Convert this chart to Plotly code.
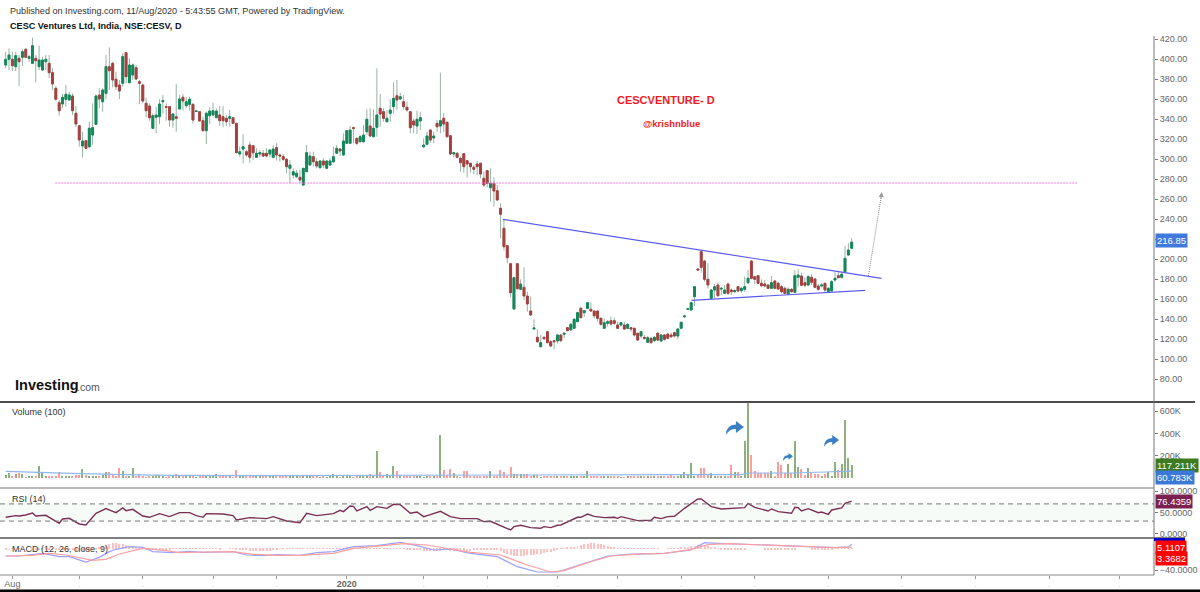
import plotly.graph_objects as go

# --- price candles (one entry per daily bar) ---
opens = [
    394, 399.7, 399.7, 392.3, 400.7, 401.7, 409.7, 400.7, 395.7, 400.7,
    392.3, 389, 397.3, 395.7, 386.3, 370.7, 356.3, 355, 359.7, 359,
    363, 345.7, 333.3, 313, 318.3, 312.3, 324, 334.7, 364, 357.3,
    365.7, 392.3, 395.7, 379.7, 374, 375.7, 406.3, 376.3, 384, 391.3,
    377.3, 374, 355.7, 353, 330.7, 341.7, 342.3, 357.3, 352.3, 352.3,
    339, 342.3, 350, 361.7, 353.3, 354.7, 354.7, 347.6, 347.3, 338.3,
    328.3, 343.3, 344, 341.3, 344, 342.3, 340.7, 340.7, 341.3, 335.7,
    305, 310, 307.3, 314, 313.3, 301.7, 305, 305.7, 305.7, 305,
    301.7, 311.3, 304, 302.3, 299.7, 290.7, 284, 282.3, 281.7, 274,
    287.3, 294, 302.3, 297.3, 291.3, 298, 290.7, 294, 297.3, 305.7,
    310, 304, 315.7, 315.7, 331.3, 320.7, 317.3, 317.3, 327.3, 333,
    322.3, 331.7, 350.7, 347.3, 337.3, 345.7, 352.3, 363.3, 360, 357.3,
    351.7, 347.3, 338, 333, 338, 312.3, 314.7, 329, 321, 335.7,
    333, 340.7, 336.7, 323.3, 305, 305.7, 300.7, 305.3, 298.3, 295.7,
    291.7, 295, 295.7, 280.7, 288.3, 271.3, 275.7, 268.3, 250.7, 230.7,
    213.3, 195.3, 150, 195.3, 169.7, 171.7, 163, 148, 130, 121.7,
    112.3, 121.7, 127.3, 117.3, 118.3, 118, 124, 124.7, 131.3, 129,
    130.7, 137.3, 150.7, 146.3, 150.7, 149.7, 148, 148, 140.7, 130.7,
    135.7, 138.3, 138.3, 134, 134, 134, 130.7, 131.3, 130.7, 125.7,
    123, 121.7, 116.7, 120.7, 118.3, 125.7, 118, 124, 125, 124,
    126.3, 123, 130.7, 142.3, 149.7, 149, 162.3, 190, 207.3, 198,
    179.7, 160.7, 169, 174, 170, 165.7, 175, 169, 167.3, 172.3,
    168.3, 169.7, 176.3, 198, 182.3, 183.3, 175.7, 175, 174, 170.7,
    178, 175.7, 172.3, 170.7, 165, 169.7, 166.7, 181.7, 183, 176.3,
    174, 181.7, 180, 173, 173, 175.7, 167.3, 168, 179, 183.3,
    181.7, 187.3, 204, 210.7,
]
highs = [
    407.3, 410.7, 407.3, 407.3, 404, 409.7, 410.7, 404, 421.3, 404,
    413.3, 402.3, 404, 404, 390.7, 373, 359, 365, 374, 367.3,
    365.7, 353, 334, 327.3, 319, 337.3, 355.7, 364.7, 370.7, 370.7,
    404, 411.7, 397.3, 387.3, 379, 405.7, 406.7, 400.7, 395.7, 394,
    379, 375.7, 361.3, 355.7, 345.7, 352.3, 359.7, 364, 355.7, 352.3,
    345.7, 375, 364, 365, 362.3, 362.3, 355.7, 348, 347.3, 342.3,
    347.3, 351.7, 356.3, 350.7, 353, 353, 344, 349, 341.7, 335.7,
    312.3, 324.7, 309, 317.3, 314, 310.7, 309, 309, 310.7, 309,
    314, 315.7, 305.7, 305, 300.7, 299, 290.7, 289, 289, 290.7,
    314, 307.3, 307.3, 300.7, 299, 300.7, 299, 300.7, 312.3, 314,
    310.7, 325.7, 329, 333, 332.3, 320.7, 324, 334, 349.7, 350.7,
    349.7, 390.7, 365, 350.7, 349, 359.7, 376.7, 379, 366.3, 364,
    357.3, 348, 340.7, 348.3, 347.3, 320.7, 327.3, 329.7, 327.3, 339,
    386.3, 345.7, 337.3, 324, 307.3, 306.7, 302.3, 305.7, 299, 296.3,
    294, 298, 296.3, 287.3, 289, 290.7, 281.7, 274, 255.7, 240,
    214, 195.7, 182.3, 195.7, 179.7, 191.7, 167.3, 162.3, 139.7, 129.7,
    124, 122.3, 128.3, 119, 119, 125, 124.7, 126.3, 131.3, 135.7,
    140.7, 147.3, 152.3, 149, 156.7, 156.7, 148.3, 148.3, 141.7, 140.7,
    139, 142.3, 141.3, 137.3, 137.3, 137.3, 135.7, 132.3, 131.3, 126.3,
    127.3, 124, 123.3, 122.3, 123, 127.3, 125, 125, 126.3, 126.3,
    127.3, 130.7, 137.3, 144, 150.7, 157.3, 173, 190.7, 208.3, 199,
    195.7, 169.7, 175, 176.3, 171.7, 174, 176.3, 170.7, 169.7, 173,
    171.7, 182.3, 189, 198.3, 183, 184, 179.7, 179, 175, 183,
    179, 177.3, 174, 172.3, 171.7, 170.7, 189, 189.7, 186.3, 181.7,
    184, 185, 180.7, 175, 175.7, 176.3, 171.7, 179, 187.3, 188.3,
    187.3, 213, 215.7, 220.7,
]
lows = [
    390.7, 389, 388, 388, 373, 393, 400.7, 397.3, 395, 376.7,
    389, 388.3, 389, 380.7, 369, 358.3, 343.3, 350.7, 352.3, 359,
    344, 331.7, 312.3, 301.3, 310.3, 310.7, 314, 334, 350.7, 347.3,
    359.7, 369, 371.7, 369, 360, 372.3, 375.7, 375.7, 379, 379,
    354.7, 355.7, 341.7, 338.3, 330, 325.7, 335, 345.7, 338.3, 332.3,
    331.3, 327.3, 349.7, 348.3, 350.7, 348.3, 335.7, 347.5, 337.3, 327.3,
    315, 335, 344, 340.7, 333, 331.7, 333, 332.3, 335.7, 305.7,
    302.3, 295.7, 302.3, 296.3, 299, 301.7, 301.7, 301.7, 301.7, 301.7,
    300.7, 298.3, 297.3, 298, 285.7, 275.7, 280.7, 280.7, 275.7, 273,
    287.3, 293.3, 292.3, 290.7, 290.7, 290.7, 290, 293.3, 295.7, 305,
    303, 303, 315.7, 315, 315.7, 314, 316.7, 316.3, 324, 321.7,
    321.7, 322.3, 332.3, 337.3, 336.7, 337.3, 345.7, 349, 359, 349.7,
    347.3, 325.7, 325.7, 325, 329, 310.7, 314, 316.3, 315.7, 327.3,
    325.7, 327.3, 321.7, 304, 301.7, 300.7, 287.3, 286.3, 281.3, 286.3,
    285, 284, 280.7, 272.3, 271.7, 257.3, 252.3, 258.3, 220.7, 208.3,
    195.7, 161.7, 149.7, 169.7, 169, 159, 147.3, 143, 130, 116.3,
    111.3, 119, 115.7, 112.3, 109.7, 115.7, 116.7, 120.7, 128, 129,
    130.7, 137.3, 140.7, 142.3, 149.7, 147.3, 140.7, 137.3, 133.3, 130,
    132.3, 133.3, 134, 130, 132.3, 129, 130, 127.3, 122.3, 118,
    120.7, 119, 116.3, 115.7, 117.3, 118, 117.3, 118.3, 119.7, 121.3,
    121.3, 119.7, 130.7, 140.7, 149, 148.3, 153, 189, 186.3, 177.3,
    170.7, 159.7, 160.7, 162.3, 164, 165, 164, 164, 166.3, 166.7,
    166.3, 167.3, 175, 179.7, 175, 175, 171.7, 171.7, 170, 170,
    169.7, 169, 165.7, 165, 164, 166.3, 166.3, 172.3, 173, 171.7,
    173, 174, 170.7, 168.3, 171.7, 166.7, 166.3, 167.3, 177.3, 180.7,
    180.7, 186.7, 203, 209.7,
]
closes = [
    399.7, 404, 393.3, 403.3, 397.3, 407.3, 401.7, 402.3, 413.3, 398.3,
    399, 399, 399.7, 386.3, 375, 359.7, 348.3, 361.7, 364.7, 364,
    348.3, 335, 319, 318, 310.7, 330.7, 331.3, 363, 360, 369,
    392.3, 388.3, 379, 372.3, 368, 402.3, 382.3, 394, 394, 380,
    375.7, 358, 348.3, 341.3, 343.3, 344, 355, 358.3, 351.7, 339,
    345, 340.7, 360, 358, 357.3, 359.7, 339, 348, 338, 328.3,
    345.7, 348, 348.3, 348, 338.3, 338.3, 337.3, 342.3, 335.7, 306.3,
    307.3, 312.3, 304, 301.7, 306.3, 305.7, 306.3, 303, 303, 309,
    310, 304, 303, 299.7, 292.3, 294, 287.3, 285.7, 279, 290.7,
    306.3, 303, 297.3, 293, 298, 294, 298, 298, 302.3, 310.7,
    308, 318, 328.3, 329, 330.7, 315.7, 322.3, 324, 339.7, 323,
    330.7, 344, 345, 340.7, 340.7, 349, 360.7, 359, 362.3, 352.3,
    349, 331.3, 334, 339.7, 341.3, 314, 323, 319, 323, 332.3,
    338.3, 335, 322.3, 305, 306.3, 301.7, 296.3, 292.3, 295, 292.3,
    289.7, 292.3, 285, 274, 275.7, 275.7, 268, 259, 244.7, 212.3,
    201.3, 166.3, 181.3, 170.3, 175, 163, 155, 144, 131, 117.3,
    116.3, 120.3, 116.3, 113, 117.3, 124, 118.3, 125.7, 128.3, 134.7,
    139.7, 146.3, 141.3, 148.3, 156.3, 148, 143.3, 140.7, 134.7, 136.3,
    137.3, 135, 135.7, 130.7, 136.3, 130, 134.7, 130, 124, 119,
    127.3, 120.7, 121.3, 116.3, 121.7, 119, 124, 119.7, 120.7, 122.3,
    123, 130, 136.7, 143, 150.3, 156.3, 172.3, 189, 191.7, 179.7,
    174, 169, 172.3, 163.3, 170.7, 169, 165.7, 167.3, 168.3, 168,
    170.7, 172.3, 180.7, 180.7, 179.7, 175.7, 173.3, 173, 170.7, 176.3,
    170.7, 170, 167.3, 165.7, 169.7, 167.3, 183.3, 184, 173.7, 173.7,
    182.3, 176.7, 171.7, 169.7, 174, 169, 170.7, 177.3, 180.7, 181.3,
    184.7, 200.7, 209, 216.85,
]
bars = list(range(len(closes)))

# --- volume in thousands, one per bar ---
volume_k = [
    30, 42, 18, 36, 45, 36, 6, 9, 12, 18,
    105, 42, 18, 12, 9, 12, 51, 15, 12, 9,
    15, 24, 30, 84, 24, 18, 21, 15, 12, 24,
    51, 51, 24, 12, 90, 66, 12, 21, 90, 15,
    36, 12, 6, 9, 12, 30, 30, 18, 6, 9,
    9, 36, 21, 18, 12, 15, 18, 6, 9, 15,
    21, 24, 15, 36, 12, 9, 15, 9, 6, 75,
    15, 18, 12, 15, 12, 9, 12, 15, 9, 12,
    12, 18, 15, 12, 15, 9, 18, 21, 15, 15,
    21, 15, 12, 9, 6, 9, 6, 9, 36, 18,
    6, 15, 12, 9, 6, 12, 9, 12, 15, 36,
    15, 240, 51, 24, 39, 15, 105, 60, 15, 12,
    9, 12, 12, 15, 9, 6, 12, 9, 15, 12,
    384, 75, 30, 84, 45, 12, 6, 60, 60, 15,
    9, 21, 18, 21, 12, 66, 12, 15, 69, 54,
    15, 99, 36, 36, 36, 36, 36, 15, 24, 24,
    6, 18, 18, 15, 18, 15, 15, 21, 18, 15,
    21, 21, 21, 21, 66, 18, 12, 12, 18, 12,
    15, 9, 12, 9, 6, 6, 9, 9, 12, 18,
    15, 18, 12, 18, 15, 21, 15, 21, 15, 24,
    15, 21, 24, 54, 30, 135, 21, 24, 90, 90,
    27, 45, 15, 15, 15, 12, 21, 114, 54, 54,
    15, 336, 675, 204, 66, 45, 42, 42, 45, 66,
    15, 144, 120, 42, 126, 45, 336, 99, 81, 30,
    90, 42, 36, 36, 18, 36, 54, 21, 144, 75,
    126, 519, 180, 117.21,
]
vol_ma_bars = [0, 8, 20, 35, 50, 80, 120, 150, 200, 220, 222, 235, 245, 253]
vol_ma_k = [60, 55, 42, 30, 24, 21, 21, 27, 30, 30, 45, 45, 54, 60.78]

# --- RSI, vertices of the line ---
rsi_bars = [
    0, 1, 3, 4, 6, 8, 9, 12, 16, 17, 19, 22, 24, 27, 30, 33, 35, 36, 38, 41,
    43, 46, 49, 52, 55, 57, 59, 60, 65, 68, 69, 73, 78, 80, 84, 88, 90, 93, 98, 100,
    101, 103, 104, 105, 108, 109, 111, 114, 116, 118, 121, 123, 125, 127, 130, 133, 136, 141, 143, 145,
    149, 151, 152, 154, 157, 160, 161, 163, 165, 166, 171, 172, 174, 176, 179, 182, 183, 184, 189, 193,
    194, 196, 198, 200, 203, 205, 207, 208, 211, 214, 218, 221, 222, 224, 228, 229, 231, 235, 236, 237,
    238, 240, 243, 244, 246, 247, 250, 251, 253,
]
rsi_vals = [
    38.8, 40.4, 42.7, 41.9, 44.2, 48.9, 41.9, 43.4, 24.9, 34.9, 36.5, 23.3, 21, 48.1, 59, 49.6, 60.5, 54.3, 57.4, 41.9,
    38.8, 47.3, 40.4, 49.6, 49.6, 42.7, 38.8, 47.3, 46.5, 42.7, 32.6, 38, 35.7, 40.4, 30.3, 26.4, 48.1, 42.7, 47.3, 55,
    52, 65.2, 64.4, 53.5, 63.6, 55, 63.6, 59.7, 69, 68.3, 48.1, 51.2, 40.4, 45, 52.7, 40.4, 35.7, 35.7, 28.7, 29.5,
    14.8, 9.3, 17.1, 20.2, 14.8, 13.2, 17.1, 14.8, 20.2, 21, 38.8, 38.8, 46.5, 41.1, 38, 38.8, 36.5, 40.4, 31.1, 31.8,
    38.8, 35.7, 40.4, 41.1, 59.7, 71.3, 81.4, 81.4, 63.6, 58.2, 59, 61.3, 71.3, 62, 53.5, 58.2, 52, 48.1, 62, 61.3,
    53.5, 59, 49.6, 51.2, 45.8, 55.9, 60.5, 71.3, 76.44,
]

# --- MACD, vertices of both lines and the histogram per bar ---
macd_bars = [
    0, 4, 11, 16, 19, 24, 28, 31, 33, 37, 41, 44, 50, 55, 59, 68, 72, 77, 81, 88,
    93, 98, 104, 111, 118, 123, 128, 133, 139, 147, 153, 159, 165, 173, 180, 187, 197, 205, 209, 213,
    221, 228, 239, 248, 252, 253,
]
macd_vals = [
    -13.3, -13.3, -8.3, -14.6, -14.6, -24.8, -15.9, -5.1, -0.6, 4.4, 3.1, -5.1, -7, -4.4, -6.4, -5.1, -11.4, -12.7, -10.8, -12.1,
    -7, -5.1, 4.4, 6.3, 12.7, 6.3, -1.9, 0, -8.3, -14.6, -33.7, -43.8, -43.8, -27.3, -13.3, -9.6, -8.3, -1.9, 12.1, 10.8,
    8.9, 6.3, 3.9, 2.6, 3.9, 8.9,
]
signal_bars = [
    0, 8, 13, 18, 26, 30, 34, 41, 48, 52, 60, 68, 74, 81, 88, 98, 104, 111, 119, 126,
    133, 139, 148, 156, 163, 167, 176, 181, 189, 197, 205, 210, 216, 223, 233, 241, 248, 253,
]
signal_vals = [
    -13.3, -12.1, -8.3, -11.4, -21.6, -19.6, -9.6, 1.3, -3.2, -7, -5.7, -5.1, -10.1, -12.1, -12.1, -8.3, 1.3, 5.8, 10.1, 7.6,
    0, -6.4, -11.4, -30.5, -43.8, -41.3, -22.3, -13.3, -9.6, -8.3, -0.6, 8.3, 10.1, 8.3, 6.3, 3.1, 2.6, 3.4,
]
macd_hist = [
    -0.5, 0, 0.3, 0, 0.5, 0.3, 0, 0, -0.3, -0.5,
    -0.5, -1, -1, -1, -1, -1, -1, -0.8, -0.8, -1,
    -2, -3, -3, -3, -3, -2, -2, -1, 2, 4,
    8, 10, 11, 11, 10, 9, 8, 6, 5, 3,
    2, 1, 0.5, -1, -2, -1, -1, -0.5, -0.5, -0.5,
    0.5, 0.5, 1, 1, 1, 1, 1.5, 1, 0.5, 0.3,
    1, 0.3, 0.5, 0.3, -0.3, 0, 0, 0.3, 0.3, -1,
    -2, -2, -2, -3, -3, -3, -3, -3, -3, -3,
    -2, -1, 1, 1, 1.5, 0.5, 0.3, 0.3, 0.3, 0.3,
    0.5, 0.5, 0.5, 0.5, 0.3, 0.3, 0.3, 0.3, 1, 1,
    1, 1.5, 2, 1.5, 1.5, 1.5, 1.5, 1.5, 1.5, 1.5,
    1.5, 1.5, 1.5, 1.5, 1, 1, 0.5, 0.5, 0.5, 0.5,
    -0.5, -1, -1.5, -2, -2, -3, -3, -3, -3, -3,
    -3, -2, -2, -3, -3, -3, -3.5, -3.5, -4, -4,
    -1.5, -1.5, -2, -2, -2, -2, -2, -2, -3, -8,
    -10, -12, -13, -13, -13, -13, -12, -11, -11, -10,
    -9, -8, -6, -5, -3, -2, 0.5, 1, 2, 3,
    4, 6, 7, 9, 10, 11, 11, 10, 9, 7,
    5, 3, 2, 1.5, 1, 1, 1, 1, 1, 1,
    1, 0.5, 0.5, 0.5, 0.3, 0.3, 0, 0, 1, 1,
    1, 1, 2, 3, 4, 6, 6, 8, 8, 7,
    5, 4, 3, 1, -1, -1, -1, -1, -1, -1.5,
    -1.5, -1, 0, 0, 0, 0, 0, -0.5, -1, -1.5,
    -1.5, -1.5, -1.5, -1.5, -1.5, -1, -1, 0, 0, 0,
    0, -0.5, -1.5, -1.5, -1.5, -1.5, -1.5, -1, 0, 0.5,
    1, 2, 2.5, 1.75,
]

# --- drawn lines, in bar number / price ---
resist_bars = [148.7, 261.9]
resist_prices = [239.7, 180.7]
support_bars = [205.1, 257]
support_prices = [158.7, 168.7]
target_bars = [14.8, 320.4]
target_price = 276
arrow_bars = [258, 262]
arrow_prices = [183, 266]

# --- axis ticks ---
DOT = '<span style="color:#cccccc">.</span>'
x_ticks = [2, 22, 41, 62, 81, 102, 125, 144, 165, 183, 202, 224, 246, 268, 290, 312, 333]
x_labels = ["Aug", DOT, DOT, DOT, DOT, "<b>2020</b>"] + [DOT] * 11
price_ticks = [80, 100, 120, 140, 160, 180, 200, 220, 240, 260, 280, 300, 320, 340, 360, 380, 400, 420]
# 220.00 sits behind the 216.85 last-price tag, so its text stays empty
price_labels = ["80.00", "100.00", "120.00", "140.00", "160.00", "180.00", "200.00", "", "240.00",
                "260.00", "280.00", "300.00", "320.00", "340.00", "360.00", "380.00", "400.00", "420.00"]
vol_ticks = [200, 400, 600]
vol_labels = ["200K", "400K", "600K"]
rsi_ticks = [0, 50, 100]
macd_ticks = [-40]

W, H = 1200, 592
PLOT_R = 1154


def px(x):
    return x / W


def py(y):
    return 1 - y / H


def arrow_path(x0, y0, w, h):
    # curved block arrow pointing right, box given in page pixels
    def pt(u, v):
        return f"{px(x0 + u * w):.5f},{py(y0 + v * h):.5f}"
    return (f"M{pt(0, 1)} Q{pt(0.0, 0.28)} {pt(0.55, 0.25)} L{pt(0.55, 0)} L{pt(1, 0.42)} "
            f"L{pt(0.55, 0.85)} L{pt(0.55, 0.58)} Q{pt(0.2, 0.55)} {pt(0, 1)} Z")


fig = go.Figure()

# wicks first, then body on top so the two can have different colours
WICK = "#98b3a4"
fig.add_trace(go.Candlestick(
    x=bars, open=opens, high=highs, low=lows, close=closes,
    increasing=dict(line=dict(color=WICK, width=1), fillcolor=WICK),
    decreasing=dict(line=dict(color=WICK, width=1), fillcolor=WICK),
    whiskerwidth=0, showlegend=False, hoverinfo="skip",
))
fig.add_trace(go.Candlestick(
    x=bars, open=opens, close=closes,
    high=[max(o, c) for o, c in zip(opens, closes)],
    low=[min(o, c) for o, c in zip(opens, closes)],
    increasing=dict(line=dict(color="#12885a", width=1), fillcolor="#12885a"),
    decreasing=dict(line=dict(color="#a83f3f", width=1), fillcolor="#a83f3f"),
    whiskerwidth=0, showlegend=False,
))

# volume
vol_colors = ["#8db07c" if c >= o else "#ff9c9c" for o, c in zip(opens, closes)]
fig.add_trace(go.Bar(x=bars, y=volume_k, marker=dict(color=vol_colors, line=dict(width=0)),
                     width=0.36, yaxis="y2", showlegend=False))
fig.add_trace(go.Scatter(x=vol_ma_bars, y=vol_ma_k, mode="lines", yaxis="y2", showlegend=False,
                         line=dict(color="#8fb8ee", width=1.2)))

# RSI
fig.add_trace(go.Scatter(x=rsi_bars, y=rsi_vals, mode="lines", yaxis="y3", showlegend=False,
                         line=dict(color="#7b2f55", width=1.4)))

# MACD
fig.add_trace(go.Bar(x=bars, y=macd_hist, marker=dict(color="#ffc0c0", line=dict(width=0)),
                     width=0.3, yaxis="y4", showlegend=False))
fig.add_trace(go.Scatter(x=macd_bars, y=macd_vals, mode="lines", yaxis="y4", showlegend=False,
                         line=dict(color="#9aa2ff", width=1.2)))
fig.add_trace(go.Scatter(x=signal_bars, y=signal_vals, mode="lines", yaxis="y4", showlegend=False,
                         line=dict(color="#ff9f9f", width=1.2)))

tick_font = dict(family="Liberation Sans", size=9, color="#666666")
y_common = dict(side="right", anchor="x", showgrid=False, zeroline=False, showline=False,
                ticks="outside", ticklen=3, tickcolor="#777777", tickfont=tick_font)

fig.update_layout(
    width=W, height=H, margin=dict(l=0, r=0, t=0, b=0, autoexpand=False),
    paper_bgcolor="white", plot_bgcolor="white", boxgap=0.2, bargap=0, barmode="overlay",
    xaxis=dict(domain=[0, PLOT_R / W], range=[-1.7, 343.4], anchor="y4", rangeslider=dict(visible=False),
               showgrid=False, zeroline=False, showline=False, ticks="outside", ticklen=3,
               tickcolor="#999999", tickvals=x_ticks, ticktext=x_labels, tickfont=tick_font, tickangle=0,
               ticklabelstandoff=-3),
    yaxis=dict(domain=[py(402), py(36)], range=[57, 423], tickvals=price_ticks, ticktext=price_labels, **y_common),
    yaxis2=dict(domain=[py(488), py(403)], range=[-89.7, 672.6], tickvals=vol_ticks, ticktext=vol_labels, **y_common),
    yaxis3=dict(domain=[py(537), py(489)], range=[-7, 104.65], tickvals=rsi_ticks, tickformat=".4f", **y_common),
    yaxis4=dict(domain=[py(575), py(539)], range=[-49.5, 19], tickvals=macd_ticks, tickformat=".4f", **y_common),
)

# panel frame lines
frame = [
    (0, 402, 1195, 402, "#111111", 1.5),
    (0, 488, PLOT_R, 488, "#777777", 1),
    (0, 538, 1185, 538, "#555555", 1.5),
    (0, 575, PLOT_R, 575, "#888888", 1),
    (PLOT_R, 36, PLOT_R, 575, "#777777", 1),
    (0, 591, W, 591, "#000000", 3),
]
for x0, y0, x1, y1, color, width in frame:
    fig.add_shape(type="line", xref="paper", yref="paper", x0=px(x0), y0=py(y0), x1=px(x1), y1=py(y1),
                  line=dict(color=color, width=width))

# RSI band and its dashed bounds
fig.add_shape(type="rect", xref="x domain", yref="y3", x0=0, x1=1, y0=30, y1=70,
              fillcolor="#f7fbf8", line=dict(width=0), layer="below")
for level in [30, 70]:
    fig.add_shape(type="line", xref="x domain", yref="y3", x0=0, x1=1, y0=level, y1=level,
                  line=dict(color="#777777", width=1, dash="5px,4px"))

# drawings on the price chart
fig.add_shape(type="line", xref="x", yref="y", x0=target_bars[0], x1=target_bars[1], y0=target_price, y1=target_price,
              line=dict(color="#ff77ee", width=1, dash="2px,1px"))
fig.add_shape(type="line", xref="x", yref="y", x0=resist_bars[0], x1=resist_bars[1], y0=resist_prices[0], y1=resist_prices[1],
              line=dict(color="#5a5af0", width=1.2))
fig.add_shape(type="line", xref="x", yref="y", x0=support_bars[0], x1=support_bars[1], y0=support_prices[0], y1=support_prices[1],
              line=dict(color="#5a5af0", width=1.2))
fig.add_shape(type="line", xref="x", yref="y", x0=arrow_bars[0], x1=arrow_bars[1], y0=arrow_prices[0], y1=arrow_prices[1],
              line=dict(color="#888888", width=1, dash="1px,1px"))
fig.add_annotation(x=arrow_bars[1], y=arrow_prices[1] + 1, xref="x", yref="y", ax=-1, ay=8, text="",
                   showarrow=True, arrowhead=2, arrowsize=1, arrowwidth=1, arrowcolor="#999999")

# blue block arrows in the volume panel
for box in [(726, 421, 18, 14), (783, 453, 10, 8), (824, 435, 15, 12)]:
    fig.add_shape(type="path", xref="paper", yref="paper", path=arrow_path(*box),
                  fillcolor="#3a80c4", line=dict(width=0))


def add_text(text, x, y, size, color="#333333", family="Liberation Sans", anchor="left", bg=None):
    fig.add_annotation(text=text, x=px(x), y=py(y), xref="paper", yref="paper", xanchor=anchor, yanchor="middle",
                       showarrow=False, bgcolor=bg, borderpad=1,
                       font=dict(family=family, size=size, color=color))


add_text("Published on Investing.com, 11/Aug/2020 - 5:43:55 GMT, Powered by TradingView.", 8, 11, 9.1)
add_text("<b>CESC Ventures Ltd, India, NSE:CESV, D</b>", 8, 26, 9.1, color="#111111")
add_text("<b>CESCVENTURE- D</b>", 666, 100, 11, color="#f01c24", anchor="center")
add_text("<b>@krishnblue</b>", 671, 123, 9.5, color="#f01c24", anchor="center")
add_text("<b>Investing</b>", 13, 385, 14.5, color="#111111")
add_text(".com", 75, 387, 10.5, color="#555555")
add_text("Volume (100)", 10, 412, 9)
add_text("RSI (14)", 10, 499, 9)
add_text("MACD (12, 26, close, 9)", 10, 549, 9)

# value labels on the right axis
for text, y, bg in [("216.85", 241, "#3f79dc"), ("117.211K", 465, "#3d7a22"), ("60.783K", 477, "#3c78d8"),
                    ("76.4359", 501, "#7a2150"), ("5.1107", 547, "#ff0000"), ("3.3682", 558, "#ff0000")]:
    add_text(text, PLOT_R + 1, y, 9.5, color="white", bg=bg)
fig.add_shape(type="rect", xref="paper", yref="paper", x0=px(PLOT_R), x1=px(1185), y0=py(538), y1=py(541),
              fillcolor="#0000cc", line=dict(width=0))

assert len(opens) == len(highs) == len(lows) == len(closes) == len(volume_k) == len(macd_hist)
assert len(rsi_bars) == len(rsi_vals) and len(macd_bars) == len(macd_vals) and len(signal_bars) == len(signal_vals)

fig.write_html("out.html", config={"displayModeBar": False}, post_script="document.body.style.margin='0';")
